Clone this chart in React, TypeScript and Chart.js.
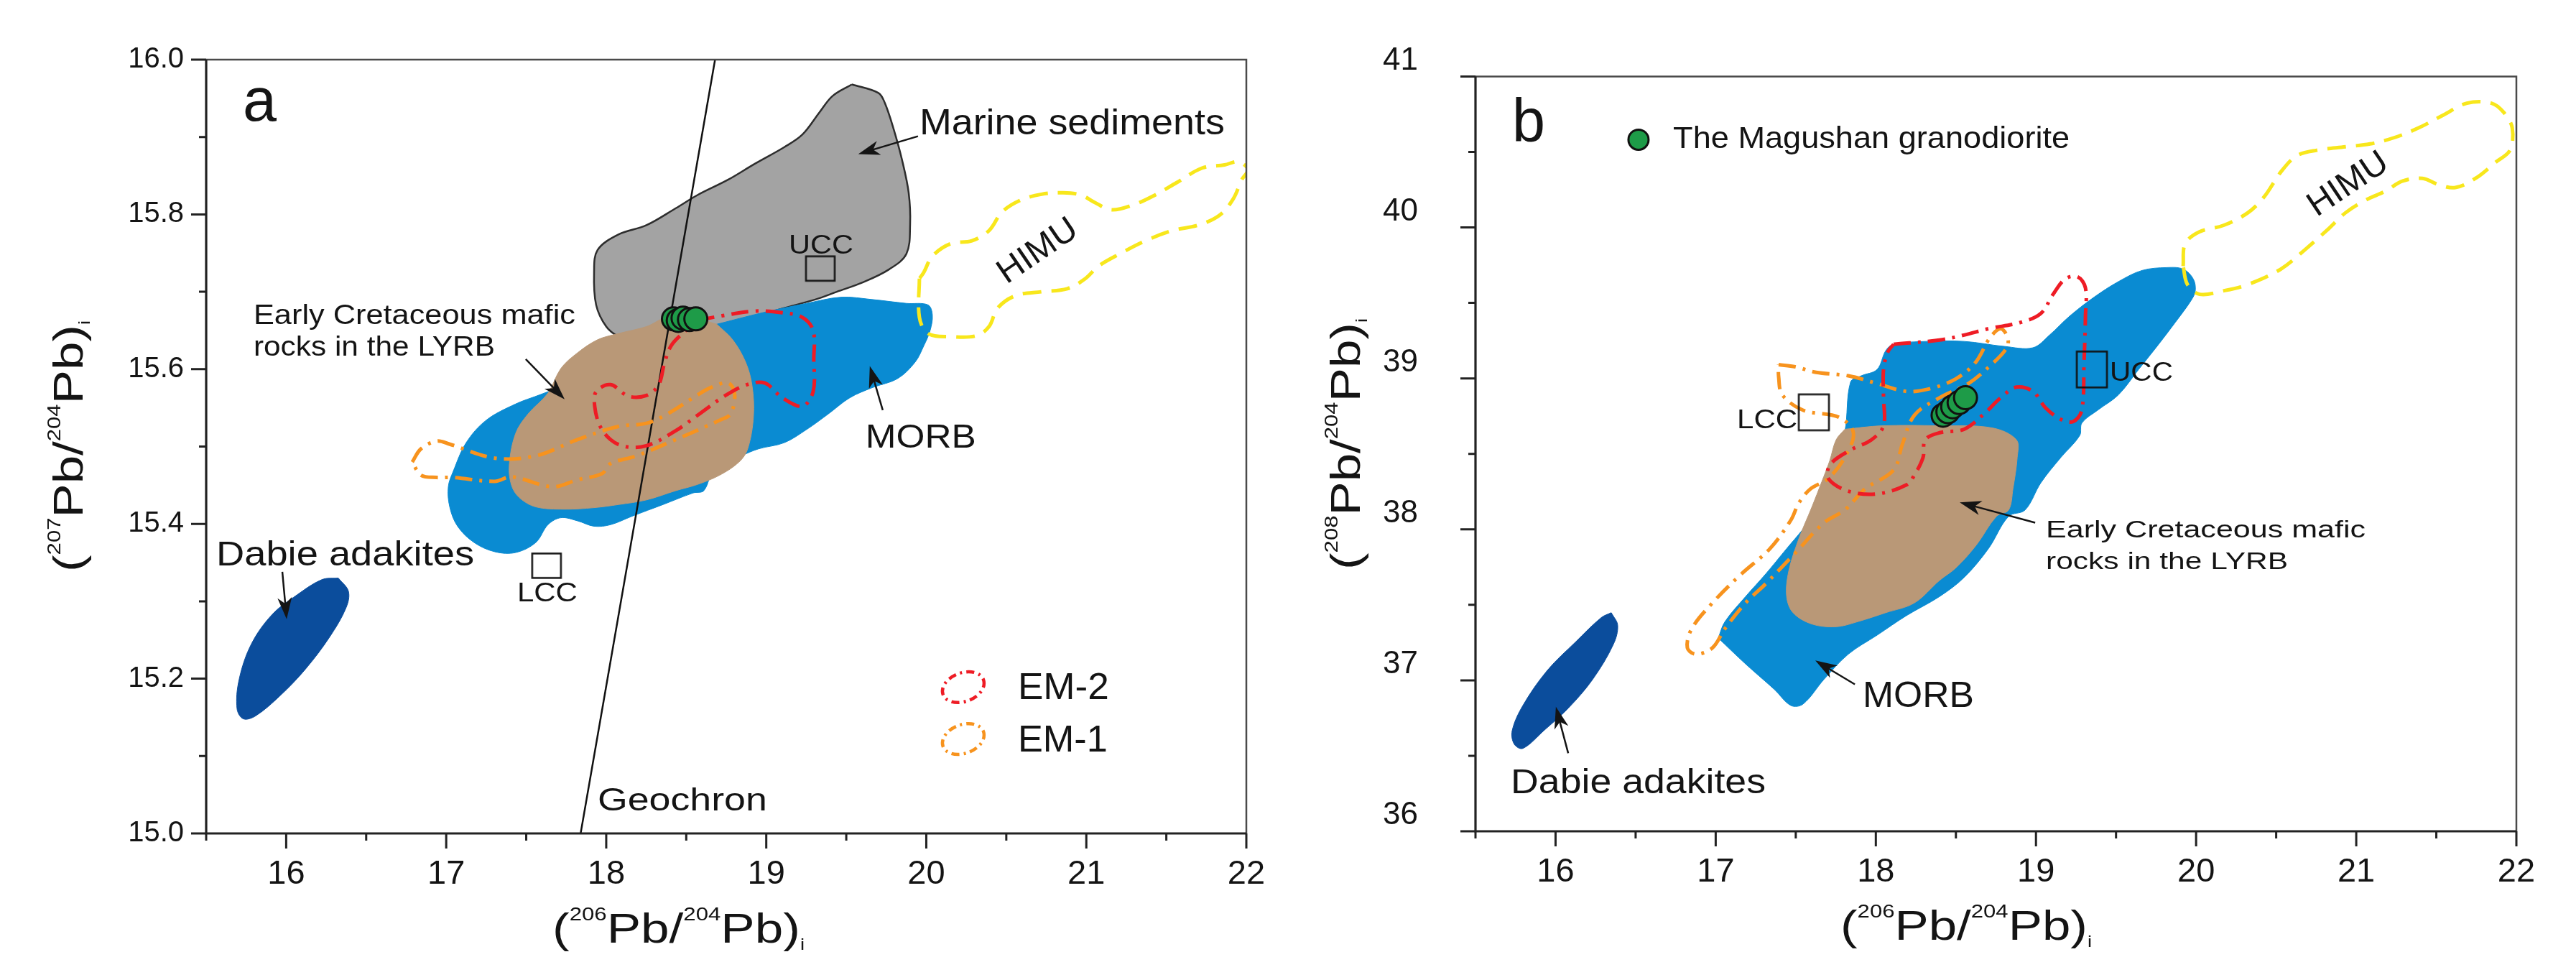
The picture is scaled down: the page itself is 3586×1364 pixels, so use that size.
import React, { useEffect, useRef } from 'react';
import { Chart, registerables } from 'chart.js';

Chart.register(...registerables);

const FONT = "'Liberation Sans', Arial, Helvetica, sans-serif";
const INK = '#141414';
const C_MORB = '#0a8bd2';
const C_LYRB = '#b99877';
const C_MARINE = '#a3a3a3';
const C_DABIE = '#0b4d9c';
const C_EM2 = '#ee1c25';
const C_EM1 = '#f7931e';
const C_HIMU = '#f8e71c';
const C_SAMPLE = '#1e9b48';

type Pt = [number, number];

// ---------- samples (The Magushan granodiorite) ----------
const SAMPLE_206: number[] = [18.42, 18.45, 18.48, 18.52, 18.56];
const SAMPLE_207: number[] = [15.665, 15.663, 15.666, 15.664, 15.665];
const SAMPLE_208: number[] = [38.756, 38.779, 38.812, 38.84, 38.872];

// ---------- Geochron ----------
const GEOCHRON_206: number[] = [17.84, 18.68];
const GEOCHRON_207: number[] = [15.0, 16.0];

// ---------- crustal reservoirs ----------
const UCC_A: Pt = [19.338, 15.73];
const LCC_A: Pt = [17.627, 15.346];
const UCC_B: Pt = [19.349, 39.059];
const LCC_B: Pt = [17.613, 38.775];

// ---------- tick labels ----------
const X_TICK_LABELS = ['16', '17', '18', '19', '20', '21', '22'];
const Y_TICK_LABELS_A = ['15.0', '15.2', '15.4', '15.6', '15.8', '16.0'];
const Y_TICK_LABELS_B = ['36', '37', '38', '39', '40', '41'];

// ---------- panel a fields (206Pb/204Pb, 207Pb/204Pb) ----------
const MARINE_A: Pt[] = [
  [19.535, 15.968], [19.701, 15.957], [19.741, 15.944], [19.795, 15.911], [19.849, 15.87],
  [19.89, 15.828], [19.899, 15.787], [19.876, 15.749], [19.768, 15.729], [19.602, 15.712],
  [19.441, 15.7], [19.306, 15.69], [19.113, 15.679], [18.7, 15.655], [18.16, 15.636],
  [18.076, 15.642], [18.0, 15.655], [17.937, 15.683], [17.924, 15.725], [17.946, 15.754],
  [18.076, 15.774], [18.251, 15.786], [18.435, 15.808], [18.57, 15.825], [18.763, 15.845],
  [18.925, 15.865], [19.113, 15.887], [19.225, 15.903], [19.333, 15.932], [19.414, 15.953],
];
const MORB_A: Pt[] = [
  [18.691, 15.658], [18.978, 15.673], [19.252, 15.685], [19.468, 15.693], [19.661, 15.69],
  [19.876, 15.685], [20.011, 15.683], [20.038, 15.67], [20.024, 15.65], [19.984, 15.63],
  [19.93, 15.609], [19.822, 15.588], [19.661, 15.576], [19.522, 15.563], [19.387, 15.542],
  [19.252, 15.522], [19.113, 15.505], [18.952, 15.497], [18.844, 15.488], [18.678, 15.472],
  [18.61, 15.443], [18.543, 15.44], [18.355, 15.425], [18.162, 15.41], [18.027, 15.399],
  [17.924, 15.397], [17.82, 15.404], [17.717, 15.408], [17.636, 15.399], [17.56, 15.376],
  [17.434, 15.363], [17.304, 15.364], [17.174, 15.376], [17.071, 15.397], [17.022, 15.422],
  [17.013, 15.448], [17.044, 15.468], [17.125, 15.505], [17.25, 15.534], [17.434, 15.555],
  [17.587, 15.567], [17.802, 15.585], [18.027, 15.613], [18.251, 15.636], [18.476, 15.65],
];
const LYRB_A: Pt[] = [
  [18.691, 15.658], [18.57, 15.665], [18.381, 15.667], [18.251, 15.655], [18.076, 15.646],
  [17.946, 15.638], [17.82, 15.621], [17.717, 15.601], [17.636, 15.569], [17.511, 15.542],
  [17.434, 15.517], [17.394, 15.476], [17.408, 15.45], [17.457, 15.434], [17.56, 15.422],
  [17.74, 15.419], [17.924, 15.421], [18.076, 15.425], [18.251, 15.431], [18.435, 15.443],
  [18.57, 15.451], [18.709, 15.463], [18.83, 15.48], [18.884, 15.497], [18.92, 15.539],
  [18.911, 15.579], [18.871, 15.609], [18.79, 15.638],
];
const DABIE_A: Pt[] = [
  [16.326, 15.33], [16.389, 15.313], [16.375, 15.292], [16.272, 15.254], [16.119, 15.212],
  [15.962, 15.178], [15.81, 15.152], [15.733, 15.148], [15.693, 15.161], [15.706, 15.199],
  [15.783, 15.245], [15.913, 15.283], [16.066, 15.308], [16.223, 15.328],
];
const EM2_A: Pt[] = [
  [18.57, 15.663], [18.723, 15.669], [18.925, 15.675], [19.1, 15.673], [19.225, 15.667],
  [19.293, 15.65], [19.297, 15.613], [19.293, 15.571], [19.225, 15.552], [19.1, 15.563],
  [18.992, 15.582], [18.88, 15.58], [18.745, 15.566], [18.588, 15.543], [18.431, 15.52],
  [18.251, 15.501], [18.117, 15.5], [18.027, 15.509], [17.96, 15.527], [17.928, 15.552],
  [17.937, 15.571], [18.027, 15.58], [18.139, 15.565], [18.251, 15.566], [18.328, 15.58],
  [18.364, 15.608], [18.408, 15.631], [18.498, 15.65],
];
const EM1_A: Pt[] = [
  [16.788, 15.48], [16.842, 15.497], [16.941, 15.507], [17.022, 15.503], [17.304, 15.485],
  [17.56, 15.488], [17.82, 15.509], [18.076, 15.526], [18.251, 15.53], [18.381, 15.542],
  [18.543, 15.563], [18.651, 15.576], [18.763, 15.582], [18.803, 15.567], [18.776, 15.542],
  [18.709, 15.534], [18.624, 15.526], [18.435, 15.509], [18.189, 15.488], [18.027, 15.478],
  [17.973, 15.465], [17.82, 15.457], [17.663, 15.448], [17.408, 15.461], [17.304, 15.455],
  [17.044, 15.46], [16.941, 15.46], [16.842, 15.463],
];
const HIMU_A: Pt[] = [
  [19.957, 15.717], [19.957, 15.667], [20.011, 15.646], [20.15, 15.642], [20.311, 15.643],
  [20.392, 15.655], [20.446, 15.679], [20.558, 15.695], [20.72, 15.7], [20.881, 15.704],
  [20.994, 15.717], [21.075, 15.733], [21.209, 15.749], [21.371, 15.766], [21.537, 15.779],
  [21.698, 15.786], [21.833, 15.799], [21.918, 15.82], [21.972, 15.845], [22.01, 15.858],
  [21.95, 15.868], [21.864, 15.864], [21.725, 15.86], [21.564, 15.841], [21.429, 15.825],
  [21.29, 15.812], [21.155, 15.806], [21.048, 15.816], [20.967, 15.825], [20.855, 15.828],
  [20.72, 15.826], [20.585, 15.818], [20.473, 15.803], [20.392, 15.779], [20.285, 15.766],
  [20.15, 15.762], [20.038, 15.746], [19.984, 15.725],
];

// ---------- panel b fields (206Pb/204Pb, 208Pb/204Pb) ----------
const MORB_B: Pt[] = [
  [17.016, 37.28], [17.057, 37.387], [17.187, 37.555], [17.312, 37.704], [17.443, 37.872],
  [17.546, 38.002], [17.649, 38.146], [17.689, 38.295], [17.752, 38.5], [17.806, 38.644],
  [17.842, 38.975], [17.909, 39.017], [18.008, 39.059], [18.062, 39.184], [18.111, 39.226],
  [18.317, 39.245], [18.551, 39.245], [18.802, 39.212], [18.981, 39.203], [19.085, 39.287],
  [19.21, 39.412], [19.363, 39.538], [19.515, 39.641], [19.663, 39.715], [19.816, 39.734],
  [19.919, 39.724], [19.982, 39.659], [19.995, 39.58], [19.968, 39.515], [19.87, 39.371],
  [19.766, 39.226], [19.641, 39.059], [19.515, 38.891], [19.385, 38.789], [19.287, 38.705],
  [19.273, 38.621], [19.156, 38.477], [19.031, 38.309], [18.932, 38.128], [18.829, 38.086],
  [18.703, 37.872], [18.551, 37.681], [18.398, 37.555], [18.192, 37.429], [18.008, 37.299],
  [17.828, 37.173], [17.676, 37.006], [17.546, 36.843], [17.47, 36.833], [17.366, 36.94],
  [17.187, 37.108],
];
const LYRB_B: Pt[] = [
  [17.806, 38.663], [18.039, 38.686], [18.398, 38.686], [18.726, 38.672], [18.878, 38.593],
  [18.883, 38.477], [18.856, 38.267], [18.829, 38.128], [18.753, 38.086], [18.627, 37.895],
  [18.501, 37.746], [18.398, 37.662], [18.241, 37.513], [18.062, 37.448], [17.882, 37.387],
  [17.752, 37.355], [17.6, 37.373], [17.483, 37.448], [17.443, 37.555], [17.456, 37.723],
  [17.519, 37.937], [17.6, 38.146], [17.662, 38.314], [17.712, 38.454], [17.752, 38.593],
];
const DABIE_B: Pt[] = [
  [16.348, 37.448], [16.388, 37.364], [16.361, 37.238], [16.231, 37.005], [16.079, 36.815],
  [15.926, 36.666], [15.796, 36.549], [15.742, 36.577], [15.729, 36.666], [15.796, 36.833],
  [15.949, 37.066], [16.128, 37.257], [16.285, 37.415],
];
const EM2_B: Pt[] = [
  [18.111, 39.226], [18.398, 39.254], [18.551, 39.287], [18.703, 39.329], [18.905, 39.371],
  [19.031, 39.431], [19.107, 39.557], [19.183, 39.659], [19.26, 39.673], [19.309, 39.599],
  [19.309, 39.412], [19.3, 39.101], [19.286, 38.789], [19.233, 38.714], [19.156, 38.728],
  [19.058, 38.807], [18.981, 38.914], [18.878, 38.942], [18.78, 38.872], [18.676, 38.765],
  [18.551, 38.663], [18.398, 38.64], [18.308, 38.593], [18.295, 38.477], [18.241, 38.36],
  [18.192, 38.295], [18.008, 38.235], [17.828, 38.253], [17.703, 38.337], [17.716, 38.43],
  [17.837, 38.523], [17.972, 38.593], [18.048, 38.686], [18.048, 38.872], [18.048, 39.059],
  [18.075, 39.175],
];
const EM1_B: Pt[] = [
  [17.393, 39.091], [17.496, 39.077], [17.627, 39.04], [17.828, 39.017], [18.008, 38.966],
  [18.192, 38.914], [18.344, 38.933], [18.501, 38.998], [18.622, 39.105], [18.712, 39.268],
  [18.779, 39.329], [18.824, 39.268], [18.815, 39.198], [18.712, 39.082], [18.578, 38.966],
  [18.398, 38.872], [18.241, 38.756], [18.165, 38.561], [18.111, 38.393], [17.932, 38.267],
  [17.806, 38.128], [17.676, 38.044], [17.501, 37.848], [17.312, 37.639], [17.187, 37.513],
  [17.057, 37.341], [16.98, 37.215], [16.877, 37.173], [16.823, 37.215], [16.85, 37.341],
  [16.98, 37.513], [17.16, 37.704], [17.339, 37.872], [17.47, 38.062], [17.519, 38.174],
  [17.591, 38.267], [17.703, 38.337], [17.806, 38.477], [17.86, 38.64], [17.77, 38.742],
  [17.546, 38.789], [17.416, 38.891], [17.393, 39.012],
];
const HIMU_B: Pt[] = [
  [19.919, 39.743], [19.932, 39.892], [20.022, 39.971], [20.17, 40.013], [20.323, 40.097],
  [20.426, 40.204], [20.529, 40.367], [20.628, 40.474], [20.753, 40.511], [20.933, 40.534],
  [21.086, 40.553], [21.238, 40.595], [21.391, 40.66], [21.543, 40.744], [21.691, 40.823],
  [21.844, 40.823], [21.92, 40.763], [21.974, 40.66], [21.96, 40.511], [21.871, 40.432],
  [21.745, 40.325], [21.619, 40.264], [21.516, 40.283], [21.413, 40.325], [21.287, 40.306],
  [21.184, 40.241], [21.059, 40.181], [20.933, 40.097], [20.83, 39.994], [20.677, 39.85],
  [20.529, 39.724], [20.323, 39.622], [20.17, 39.58], [20.022, 39.557], [19.946, 39.622],
];

// ---------- annotation layout (data coordinates for anchors) ----------
type Label = { t: string; x: number; y: number; size: number; w?: number; align?: CanvasTextAlign; rot?: number; mid?: boolean };
type Arrow = { from: Pt; to: Pt };

const LABELS_A: Label[] = [
  { t: 'a', x: 15.729, y: 15.921, size: 86, w: 47 },
  { t: 'Early Cretaceous mafic', x: 15.796, y: 15.658, size: 38, w: 448 },
  { t: 'rocks in the LYRB', x: 15.796, y: 15.617, size: 38, w: 336 },
  { t: 'Marine sediments', x: 19.957, y: 15.903, size: 50, w: 425 },
  { t: 'UCC', x: 19.342, y: 15.749, size: 37, w: 90, align: 'center' },
  { t: 'HIMU', x: 20.698, y: 15.752, size: 48, w: 124, align: 'center', rot: -0.6, mid: true },
  { t: 'MORB', x: 19.62, y: 15.499, size: 47, w: 154 },
  { t: 'Dabie adakites', x: 15.563, y: 15.346, size: 49, w: 359 },
  { t: 'LCC', x: 17.632, y: 15.3, size: 37, w: 84, align: 'center' },
  { t: 'Geochron', x: 17.946, y: 15.03, size: 45, w: 236 },
  { t: 'EM-2', x: 20.572, y: 15.174, size: 52, w: 127 },
  { t: 'EM-1', x: 20.572, y: 15.106, size: 52, w: 125 },
];
const ARROWS_A: Arrow[] = [
  { from: [17.497, 15.613], to: [17.74, 15.561] },
  { from: [19.948, 15.901], to: [19.575, 15.878] },
  { from: [19.728, 15.547], to: [19.647, 15.604] },
  { from: [15.976, 15.338], to: [16.003, 15.277] },
];
const LEGEND_A = [
  { x: 20.231, y: 15.189, color: C_EM2 },
  { x: 20.231, y: 15.122, color: C_EM1 },
];

const LABELS_B: Label[] = [
  { t: 'b', x: 15.729, y: 40.567, size: 86, w: 46 },
  { t: 'The Magushan granodiorite', x: 16.734, y: 40.525, size: 43, w: 552 },
  { t: 'HIMU', x: 20.951, y: 40.283, size: 48, w: 124, align: 'center', rot: -0.59, mid: true },
  { t: 'UCC', x: 19.461, y: 38.984, size: 37, w: 88 },
  { t: 'LCC', x: 17.51, y: 38.672, size: 37, w: 84, align: 'right' },
  { t: 'Early Cretaceous mafic', x: 19.062, y: 37.946, size: 34, w: 445 },
  { t: 'rocks in the LYRB', x: 19.062, y: 37.736, size: 34, w: 337 },
  { t: 'MORB', x: 17.918, y: 36.824, size: 50, w: 155 },
  { t: 'Dabie adakites', x: 15.72, y: 36.251, size: 49, w: 355 },
];
const ARROWS_B: Arrow[] = [
  { from: [18.995, 38.044], to: [18.524, 38.179] },
  { from: [17.869, 36.973], to: [17.622, 37.131] },
  { from: [16.079, 36.517], to: [16.002, 36.824] },
];
const LEGEND_DOT_B: Pt = [16.518, 40.581];

// ---------- helpers ----------
const closed = (pts: Pt[]) => [...pts, pts[0]].map(([x, y]) => ({ x, y }));

function areaSet(pts: Pt[], color: string, order: number, outline?: string) {
  return {
    data: closed(pts),
    showLine: true,
    fill: 'shape',
    backgroundColor: color,
    borderColor: outline || color,
    borderWidth: outline ? 2.5 : 1,
    pointRadius: 0,
    tension: 0.35,
    order,
  };
}
function loopSet(pts: Pt[], color: string, dash: number[], order: number) {
  return {
    data: closed(pts),
    showLine: true,
    fill: false,
    backgroundColor: 'rgba(0,0,0,0)',
    borderColor: color,
    borderWidth: 5,
    borderDash: dash,
    pointRadius: 0,
    tension: 0.35,
    order,
  };
}
function makeBox(w: number, h: number, lw: number) {
  const c = document.createElement('canvas');
  c.width = w + lw * 2;
  c.height = h + lw * 2;
  const g = c.getContext('2d')!;
  g.strokeStyle = '#111';
  g.lineWidth = lw;
  g.strokeRect(lw, lw, w, h);
  return c;
}
function samplesSet(xs: number[], ys: number[]) {
  return {
    data: xs.map((x, i) => ({ x, y: ys[i] })),
    showLine: false,
    pointRadius: 16,
    pointBackgroundColor: C_SAMPLE,
    pointBorderColor: '#111',
    pointBorderWidth: 3,
    order: 1,
  };
}
const DASHDOT = [24, 10, 4, 10];
const DASH = [26, 14];

function tickCb(labels: string[]) {
  return (v: any) => {
    const f = labels.find((l) => Math.abs(parseFloat(l) - Number(v)) < 1e-6);
    return f === undefined ? '' : f;
  };
}

function drawText(ctx: CanvasRenderingContext2D, L: Label, px: number, py: number) {
  ctx.save();
  ctx.font = `${L.size}px ${FONT}`;
  const m = ctx.measureText(L.t).width;
  const sx = L.w ? L.w / m : 1;
  ctx.translate(px, py);
  if (L.rot) ctx.rotate(L.rot);
  ctx.scale(sx, 1);
  ctx.textAlign = L.align || 'left';
  ctx.textBaseline = L.mid ? 'middle' : 'alphabetic';
  ctx.fillStyle = INK;
  ctx.fillText(L.t, 0, 0);
  ctx.restore();
}

function drawArrow(ctx: CanvasRenderingContext2D, x1: number, y1: number, x2: number, y2: number) {
  const a = Math.atan2(y2 - y1, x2 - x1);
  const L = 30, W = 10;
  const c = Math.cos(a), s = Math.sin(a);
  ctx.save();
  ctx.strokeStyle = INK;
  ctx.fillStyle = INK;
  ctx.lineWidth = 2.5;
  ctx.setLineDash([]);
  ctx.beginPath();
  ctx.moveTo(x1, y1);
  ctx.lineTo(x2 - L * 0.7 * c, y2 - L * 0.7 * s);
  ctx.stroke();
  ctx.beginPath();
  ctx.moveTo(x2, y2);
  ctx.lineTo(x2 - L * c + W * s, y2 - L * s - W * c);
  ctx.lineTo(x2 - L * 0.72 * c, y2 - L * 0.72 * s);
  ctx.lineTo(x2 - L * c - W * s, y2 - L * s + W * c);
  ctx.closePath();
  ctx.fill();
  ctx.restore();
}

type Part = { t: string; size: number; dy: number };
function axisParts(a: string, b: string): Part[] {
  return [
    { t: '(', size: 57, dy: 0 },
    { t: a, size: 25, dy: -31 },
    { t: 'Pb/', size: 57, dy: 0 },
    { t: b, size: 25, dy: -31 },
    { t: 'Pb)', size: 57, dy: 0 },
    { t: 'i', size: 22, dy: 10 },
  ];
}
function drawRich(ctx: CanvasRenderingContext2D, parts: Part[], x: number, y: number, w: number, rot: number, center: boolean) {
  ctx.save();
  const widths = parts.map((p) => {
    ctx.font = `${p.size}px ${FONT}`;
    return ctx.measureText(p.t).width;
  });
  const total = widths.reduce((s, v) => s + v, 0);
  ctx.translate(x, y);
  if (rot) ctx.rotate(rot);
  ctx.scale(w / total, 1);
  ctx.fillStyle = INK;
  ctx.textAlign = 'left';
  ctx.textBaseline = 'alphabetic';
  let cx = center ? -total / 2 : 0;
  parts.forEach((p, i) => {
    ctx.font = `${p.size}px ${FONT}`;
    ctx.fillText(p.t, cx, p.dy);
    cx += widths[i];
  });
  ctx.restore();
}

type Spec = {
  id: string;
  xMin: number; xMax: number; xMinor: number; xMajor: number;
  yMin: number; yMax: number; yMinor: number; yMajor: number;
  labels: Label[]; arrows: Arrow[];
  xTitle: { x: number; y: number; w: number; sup: string };
  yTitle: { x: number; y: number; w: number; sup: string };
  legendEllipses?: { x: number; y: number; color: string }[];
  legendDot?: Pt;
};

function decorPlugin(spec: Spec) {
  return {
    id: 'decor_' + spec.id,
    afterDatasetsDraw(chart: any) {
      const ctx: CanvasRenderingContext2D = chart.ctx;
      const xs = chart.scales.x, ys = chart.scales.y;
      const X = (v: number) => xs.getPixelForValue(v);
      const Y = (v: number) => ys.getPixelForValue(v);
      const { left, right, top, bottom } = chart.chartArea;
      ctx.save();
      ctx.setLineDash([]);
      // frame: top/right lighter, axes darker
      ctx.strokeStyle = '#4a4a4a';
      ctx.lineWidth = 2.5;
      ctx.beginPath();
      ctx.moveTo(left, top);
      ctx.lineTo(right, top);
      ctx.lineTo(right, bottom);
      ctx.stroke();
      ctx.strokeStyle = '#222';
      ctx.lineWidth = 3.2;
      ctx.beginPath();
      ctx.moveTo(left, top);
      ctx.lineTo(left, bottom);
      ctx.lineTo(right, bottom);
      ctx.stroke();
      // ticks
      ctx.lineWidth = 3;
      ctx.beginPath();
      const nx = Math.round((spec.xMax - spec.xMin) / spec.xMinor);
      for (let i = 0; i <= nx; i++) {
        const v = spec.xMin + i * spec.xMinor;
        const r = v / spec.xMajor;
        const major = Math.abs(r - Math.round(r)) < 1e-6;
        const p = X(v);
        ctx.moveTo(p, bottom);
        ctx.lineTo(p, bottom + (major ? 21 : 10));
      }
      const ny = Math.round((spec.yMax - spec.yMin) / spec.yMinor);
      for (let i = 0; i <= ny; i++) {
        const v = spec.yMin + i * spec.yMinor;
        const r = v / spec.yMajor;
        const major = Math.abs(r - Math.round(r)) < 1e-6;
        const p = Y(v);
        ctx.moveTo(left, p);
        ctx.lineTo(left - (major ? 21 : 10), p);
      }
      ctx.stroke();
      // arrows
      spec.arrows.forEach((a) => drawArrow(ctx, X(a.from[0]), Y(a.from[1]), X(a.to[0]), Y(a.to[1])));
      // labels
      spec.labels.forEach((L) => drawText(ctx, L, X(L.x), Y(L.y)));
      // legend ellipses
      (spec.legendEllipses || []).forEach((e) => {
        ctx.save();
        ctx.strokeStyle = e.color;
        ctx.lineWidth = 4.5;
        ctx.setLineDash([11, 6, 3, 6]);
        ctx.beginPath();
        ctx.ellipse(X(e.x), Y(e.y), 30, 20, -0.35, 0, Math.PI * 2);
        ctx.stroke();
        ctx.restore();
      });
      if (spec.legendDot) {
        ctx.save();
        ctx.beginPath();
        ctx.arc(X(spec.legendDot[0]), Y(spec.legendDot[1]), 14, 0, Math.PI * 2);
        ctx.fillStyle = C_SAMPLE;
        ctx.fill();
        ctx.lineWidth = 3;
        ctx.strokeStyle = '#111';
        ctx.stroke();
        ctx.restore();
      }
      // axis titles
      drawRich(ctx, axisParts('206', '204'), spec.xTitle.x, spec.xTitle.y, spec.xTitle.w, 0, false);
      drawRich(ctx, axisParts(spec.yTitle.sup, '204'), spec.yTitle.x, spec.yTitle.y, spec.yTitle.w, -Math.PI / 2, true);
      ctx.restore();
    },
  };
}

function baseOptions(o: {
  padRight: number; yWidth: number; xHeight: number;
  yMin: number; yMax: number; yStep: number; yLabels: string[]; yFont: number; yPad: number; yOffset: number;
}) {
  return {
    animation: false,
    responsive: false,
    devicePixelRatio: 1,
    events: [],
    layout: { padding: { left: 0, top: 83, right: o.padRight, bottom: 0 } },
    plugins: { legend: { display: false }, tooltip: { enabled: false } },
    scales: {
      x: {
        type: 'linear',
        min: 15.5,
        max: 22,
        afterFit: (s: any) => { s.height = o.xHeight; },
        grid: { display: false, drawTicks: false },
        border: { display: false },
        ticks: {
          stepSize: 0.5, autoSkip: false, maxRotation: 0, minRotation: 0, padding: 29,
          color: INK, font: { family: FONT, size: 47 }, callback: tickCb(X_TICK_LABELS),
        },
      },
      y: {
        type: 'linear',
        min: o.yMin,
        max: o.yMax,
        afterFit: (s: any) => { s.width = o.yWidth; },
        grid: { display: false, drawTicks: false },
        border: { display: false },
        ticks: {
          stepSize: o.yStep, autoSkip: false, padding: o.yPad, labelOffset: o.yOffset,
          color: INK, font: { family: FONT, size: o.yFont }, callback: tickCb(o.yLabels),
        },
      },
    },
  };
}

function configA() {
  const box = makeBox(40, 34, 2.5);
  return {
    type: 'scatter',
    data: {
      datasets: [
        samplesSet(SAMPLE_206, SAMPLE_207),
        { data: [{ x: UCC_A[0], y: UCC_A[1] }, { x: LCC_A[0], y: LCC_A[1] }], pointStyle: box, pointRadius: 20, showLine: false, order: 2 },
        loopSet(HIMU_A, C_HIMU, DASH, 3),
        loopSet(EM2_A, C_EM2, DASHDOT, 4),
        loopSet(EM1_A, C_EM1, DASHDOT, 5),
        {
          data: GEOCHRON_206.map((x, i) => ({ x, y: GEOCHRON_207[i] })),
          showLine: true, fill: false, borderColor: '#111', borderWidth: 2.5, pointRadius: 0, order: 6,
        },
        areaSet(DABIE_A, C_DABIE, 7),
        areaSet(LYRB_A, C_LYRB, 8),
        areaSet(MORB_A, C_MORB, 9),
        areaSet(MARINE_A, C_MARINE, 10, '#2d2d2d'),
      ],
    },
    options: baseOptions({
      padRight: 65, yWidth: 287, xHeight: 204,
      yMin: 15, yMax: 16, yStep: 0.1, yLabels: Y_TICK_LABELS_A, yFont: 40, yPad: 31, yOffset: 0,
    }),
    plugins: [decorPlugin({
      id: 'a', xMin: 15.5, xMax: 22, xMinor: 0.5, xMajor: 1,
      yMin: 15, yMax: 16, yMinor: 0.1, yMajor: 0.2,
      labels: LABELS_A, arrows: ARROWS_A,
      xTitle: { x: 769, y: 1312, w: 351, sup: '206' },
      yTitle: { x: 115, y: 621, w: 350, sup: '207' },
      legendEllipses: LEGEND_A,
    })],
  };
}

function configB() {
  const box = makeBox(42, 50, 2.5);
  return {
    type: 'scatter',
    data: {
      datasets: [
        samplesSet(SAMPLE_206, SAMPLE_208),
        { data: [{ x: UCC_B[0], y: UCC_B[1] }, { x: LCC_B[0], y: LCC_B[1] }], pointStyle: box, pointRadius: 20, showLine: false, order: 2 },
        loopSet(HIMU_B, C_HIMU, DASH, 3),
        loopSet(EM2_B, C_EM2, DASHDOT, 4),
        loopSet(EM1_B, C_EM1, DASHDOT, 5),
        areaSet(DABIE_B, C_DABIE, 7),
        areaSet(LYRB_B, C_LYRB, 8),
        areaSet(MORB_B, C_MORB, 9),
      ],
    },
    options: baseOptions({
      padRight: 83, yWidth: 254, xHeight: 207,
      yMin: 36, yMax: 41, yStep: 0.5, yLabels: Y_TICK_LABELS_B, yFont: 44, yPad: 80, yOffset: -22,
    }),
    plugins: [decorPlugin({
      id: 'b', xMin: 15.5, xMax: 22, xMinor: 0.5, xMajor: 1,
      yMin: 36, yMax: 41, yMinor: 0.5, yMajor: 1,
      labels: LABELS_B, arrows: ARROWS_B,
      xTitle: { x: 762, y: 1308, w: 350, sup: '206' },
      yTitle: { x: 93, y: 618, w: 350, sup: '208' },
      legendDot: LEGEND_DOT_B,
    })],
  };
}

function Panel({ make, left, width }: { make: () => any; left: number; width: number }) {
  const ref = useRef<HTMLCanvasElement>(null);
  useEffect(() => {
    const chart = new Chart(ref.current as HTMLCanvasElement, make());
    return () => chart.destroy();
  }, []);
  return (
    <canvas
      ref={ref}
      width={width}
      height={1364}
      style={{ position: 'absolute', left, top: 0, width, height: 1364 }}
    />
  );
}

export default function App() {
  return (
    <div style={{ position: 'absolute', left: 0, top: 0, width: 3586, height: 1364, background: '#ffffff', overflow: 'hidden' }}>
      <Panel make={configA} left={0} width={1800} />
      <Panel make={configB} left={1800} width={1786} />
    </div>
  );
}
